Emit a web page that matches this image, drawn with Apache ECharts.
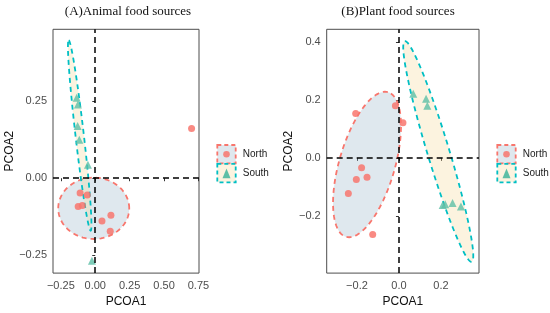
<!DOCTYPE html>
<html>
<head>
<meta charset="utf-8">
<script src="https://cdn.jsdelivr.net/npm/echarts@6/dist/echarts.min.js"></script>
<style>
  html, body { margin: 0; padding: 0; background: #fff; }
  #chart { width: 550px; height: 313px; }
</style>
</head>
<body>
<div id="chart"></div>
<script>
// tick values
const xTicksA = [-0.25, 0, 0.25, 0.5, 0.75];
const yTicksA = [-0.25, 0, 0.25];
const xTicksB = [-0.2, 0, 0.2];
const yTicksB = [-0.2, 0, 0.2, 0.4];

// points [PCOA1, PCOA2]
const northA = [[0.70, 0.162], [-0.11, -0.048], [-0.058, -0.055], [-0.124, -0.092], [-0.094, -0.089], [0.114, -0.121], [0.049, -0.139], [0.109, -0.173]];
const southA = [[-0.135, 0.262], [-0.126, 0.240], [-0.128, 0.170], [-0.116, 0.125], [-0.053, 0.044], [-0.024, -0.269]];
const northB = [[-0.206, 0.153], [-0.017, 0.180], [0.019, 0.121], [-0.178, -0.034], [-0.203, -0.075], [-0.152, -0.067], [-0.241, -0.123], [-0.125, -0.265]];
const southB = [[0.068, 0.221], [0.129, 0.204], [0.135, 0.180], [0.208, -0.163], [0.22, -0.16], [0.255, -0.156], [0.295, -0.168]];

// ellipses: [cx, cy, major dx, major dy, minor dx, minor dy]
const ellNorthA = [-0.011, -0.098, 0.258, 0, 0, 0.10];
const ellSouthA = [-0.113, 0.139, -0.08, 0.31, 0.03, 0.002];
const ellNorthB = [-0.152, -0.023, 0.099, 0.250, -0.128, 0.025];
const ellSouthB = [0.187, 0.022, -0.159, 0.381, 0.0503, 0.0103];

const RED = '#F8766D', CYAN = '#00BFC4', TRI = '#5cbfa6';
const FILL_N = 'rgba(150,180,200,0.3)', FILL_S = 'rgba(245,215,150,0.3)';
const MINUS = '\u2212';

function fmt(d) {
  return function (v) {
    const s = Math.abs(v).toFixed(d);
    return v < 0 ? MINUS + s : s;
  };
}

function ellipseSeries(idx, e, stroke, fill) {
  return {
    type: 'custom',
    xAxisIndex: idx, yAxisIndex: idx,
    z: 1,
    silent: true,
    clip: true,
    data: [e],
    renderItem: function (params, api) {
      const pts = [];
      for (let i = 0; i < 120; i++) {
        const t = i / 120 * Math.PI * 2;
        const x = api.value(0) + Math.cos(t) * api.value(2) + Math.sin(t) * api.value(4);
        const y = api.value(1) + Math.cos(t) * api.value(3) + Math.sin(t) * api.value(5);
        pts.push(api.coord([x, y]));
      }
      return {
        type: 'polygon',
        shape: { points: pts },
        style: { fill: fill, stroke: stroke, lineWidth: 1.8, lineDash: [5, 4] }
      };
    },
    encode: { x: [0], y: [1] }
  };
}

function zeroLines(idx) {
  return {
    type: 'line', xAxisIndex: idx, yAxisIndex: idx, data: [], z: 2,
    markLine: {
      silent: true, symbol: 'none', label: { show: false },
      lineStyle: { color: '#000', width: 1.5, type: [6, 4] },
      data: [{ xAxis: 0 }, { yAxis: 0 }]
    }
  };
}

function xAxis(idx, min, max, ticks, d) {
  return {
    type: 'value', gridIndex: idx, min: min, max: max,
    name: 'PCOA1', nameLocation: 'middle', nameGap: 21,
    nameTextStyle: { fontFamily: 'Liberation Sans', fontSize: 12, color: '#111' },
    axisLine: { show: false },
    axisTick: { show: true, length: 3, lineStyle: { color: '#333' }, customValues: ticks },
    axisLabel: { customValues: ticks, formatter: fmt(d), margin: 7, fontFamily: 'Liberation Sans', fontSize: 11, color: '#4d4d4d' },
    splitLine: { show: false }
  };
}

function yAxis(idx, min, max, ticks, d, gap) {
  return {
    type: 'value', gridIndex: idx, min: min, max: max,
    name: 'PCOA2', nameLocation: 'middle', nameGap: gap,
    nameTextStyle: { fontFamily: 'Liberation Sans', fontSize: 12, color: '#111' },
    axisLine: { show: false },
    axisTick: { show: true, length: 3, lineStyle: { color: '#333' }, customValues: ticks },
    axisLabel: { customValues: ticks, formatter: fmt(d), margin: 6, fontFamily: 'Liberation Sans', fontSize: 11, color: '#4d4d4d' },
    splitLine: { show: false }
  };
}

function legendKeys(x) {
  const y0 = 145, s = 18.4;
  return [
    { type: 'rect', shape: { x: x, y: y0, width: s, height: s }, style: { fill: FILL_N, stroke: RED, lineWidth: 1.8, lineDash: [4, 3] } },
    { type: 'circle', shape: { cx: x + s / 2, cy: y0 + s / 2, r: 3.3 }, style: { fill: RED, opacity: 0.85 } },
    { type: 'text', x: x + 25.5, y: y0 + s / 2, style: { text: 'North', font: '10px "Liberation Sans"', fill: '#1a1a1a', verticalAlign: 'middle' } },
    { type: 'rect', shape: { x: x, y: y0 + s + 0.5, width: s, height: s }, style: { fill: FILL_S, stroke: CYAN, lineWidth: 1.8, lineDash: [4, 3] } },
    { type: 'polygon', shape: { points: [[x + s / 2, y0 + s + 5], [x + s / 2 - 4, y0 + 2 * s - 3.5], [x + s / 2 + 4, y0 + 2 * s - 3.5]] }, style: { fill: TRI } },
    { type: 'text', x: x + 25.5, y: y0 + 1.5 * s + 0.5, style: { text: 'South', font: '10px "Liberation Sans"', fill: '#1a1a1a', verticalAlign: 'middle' } }
  ];
}

const chart = echarts.init(document.getElementById('chart'), null, { renderer: 'canvas' });
chart.setOption({
  animation: false,
  backgroundColor: '#fff',
  title: [
    { text: '(A)Animal food sources', left: 123, top: 0, textAlign: 'center',
      textStyle: { fontFamily: 'Liberation Serif', fontSize: 13, fontWeight: 'normal', color: '#111' } },
    { text: '(B)Plant food sources', left: 393, top: 0, textAlign: 'center',
      textStyle: { fontFamily: 'Liberation Serif', fontSize: 13, fontWeight: 'normal', color: '#111' } }
  ],
  grid: [
    { left: 53, top: 29.3, width: 146, height: 251.7, show: true, borderColor: '#4d4d4d', borderWidth: 1, backgroundColor: 'transparent' },
    { left: 326.7, top: 29.3, width: 152.3, height: 251.7, show: true, borderColor: '#4d4d4d', borderWidth: 1, backgroundColor: 'transparent' }
  ],
  xAxis: [
    xAxis(0, -0.307, 0.754, xTicksA, 2),
    xAxis(1, -0.344, 0.381, xTicksB, 1)
  ],
  yAxis: [
    yAxis(0, -0.309, 0.485, yTicksA, 2, 34),
    yAxis(1, -0.398, 0.444, yTicksB, 1, 32)
  ],
  series: [
    ellipseSeries(0, ellNorthA, RED, FILL_N),
    ellipseSeries(0, ellSouthA, CYAN, FILL_S),
    ellipseSeries(1, ellNorthB, RED, FILL_N),
    ellipseSeries(1, ellSouthB, CYAN, FILL_S),
    zeroLines(0),
    zeroLines(1),
    { name: 'North', type: 'scatter', xAxisIndex: 0, yAxisIndex: 0, z: 3, data: northA, symbol: 'circle', symbolSize: 7, itemStyle: { color: RED, opacity: 0.85 } },
    { name: 'South', type: 'scatter', xAxisIndex: 0, yAxisIndex: 0, z: 3, data: southA, symbol: 'triangle', symbolSize: 8, itemStyle: { color: TRI } },
    { name: 'North', type: 'scatter', xAxisIndex: 1, yAxisIndex: 1, z: 3, data: northB, symbol: 'circle', symbolSize: 7, itemStyle: { color: RED, opacity: 0.85 } },
    { name: 'South', type: 'scatter', xAxisIndex: 1, yAxisIndex: 1, z: 3, data: southB, symbol: 'triangle', symbolSize: 8, itemStyle: { color: TRI } }
  ],
  graphic: legendKeys(217.3).concat(legendKeys(497.3))
});
</script>
</body>
</html>
